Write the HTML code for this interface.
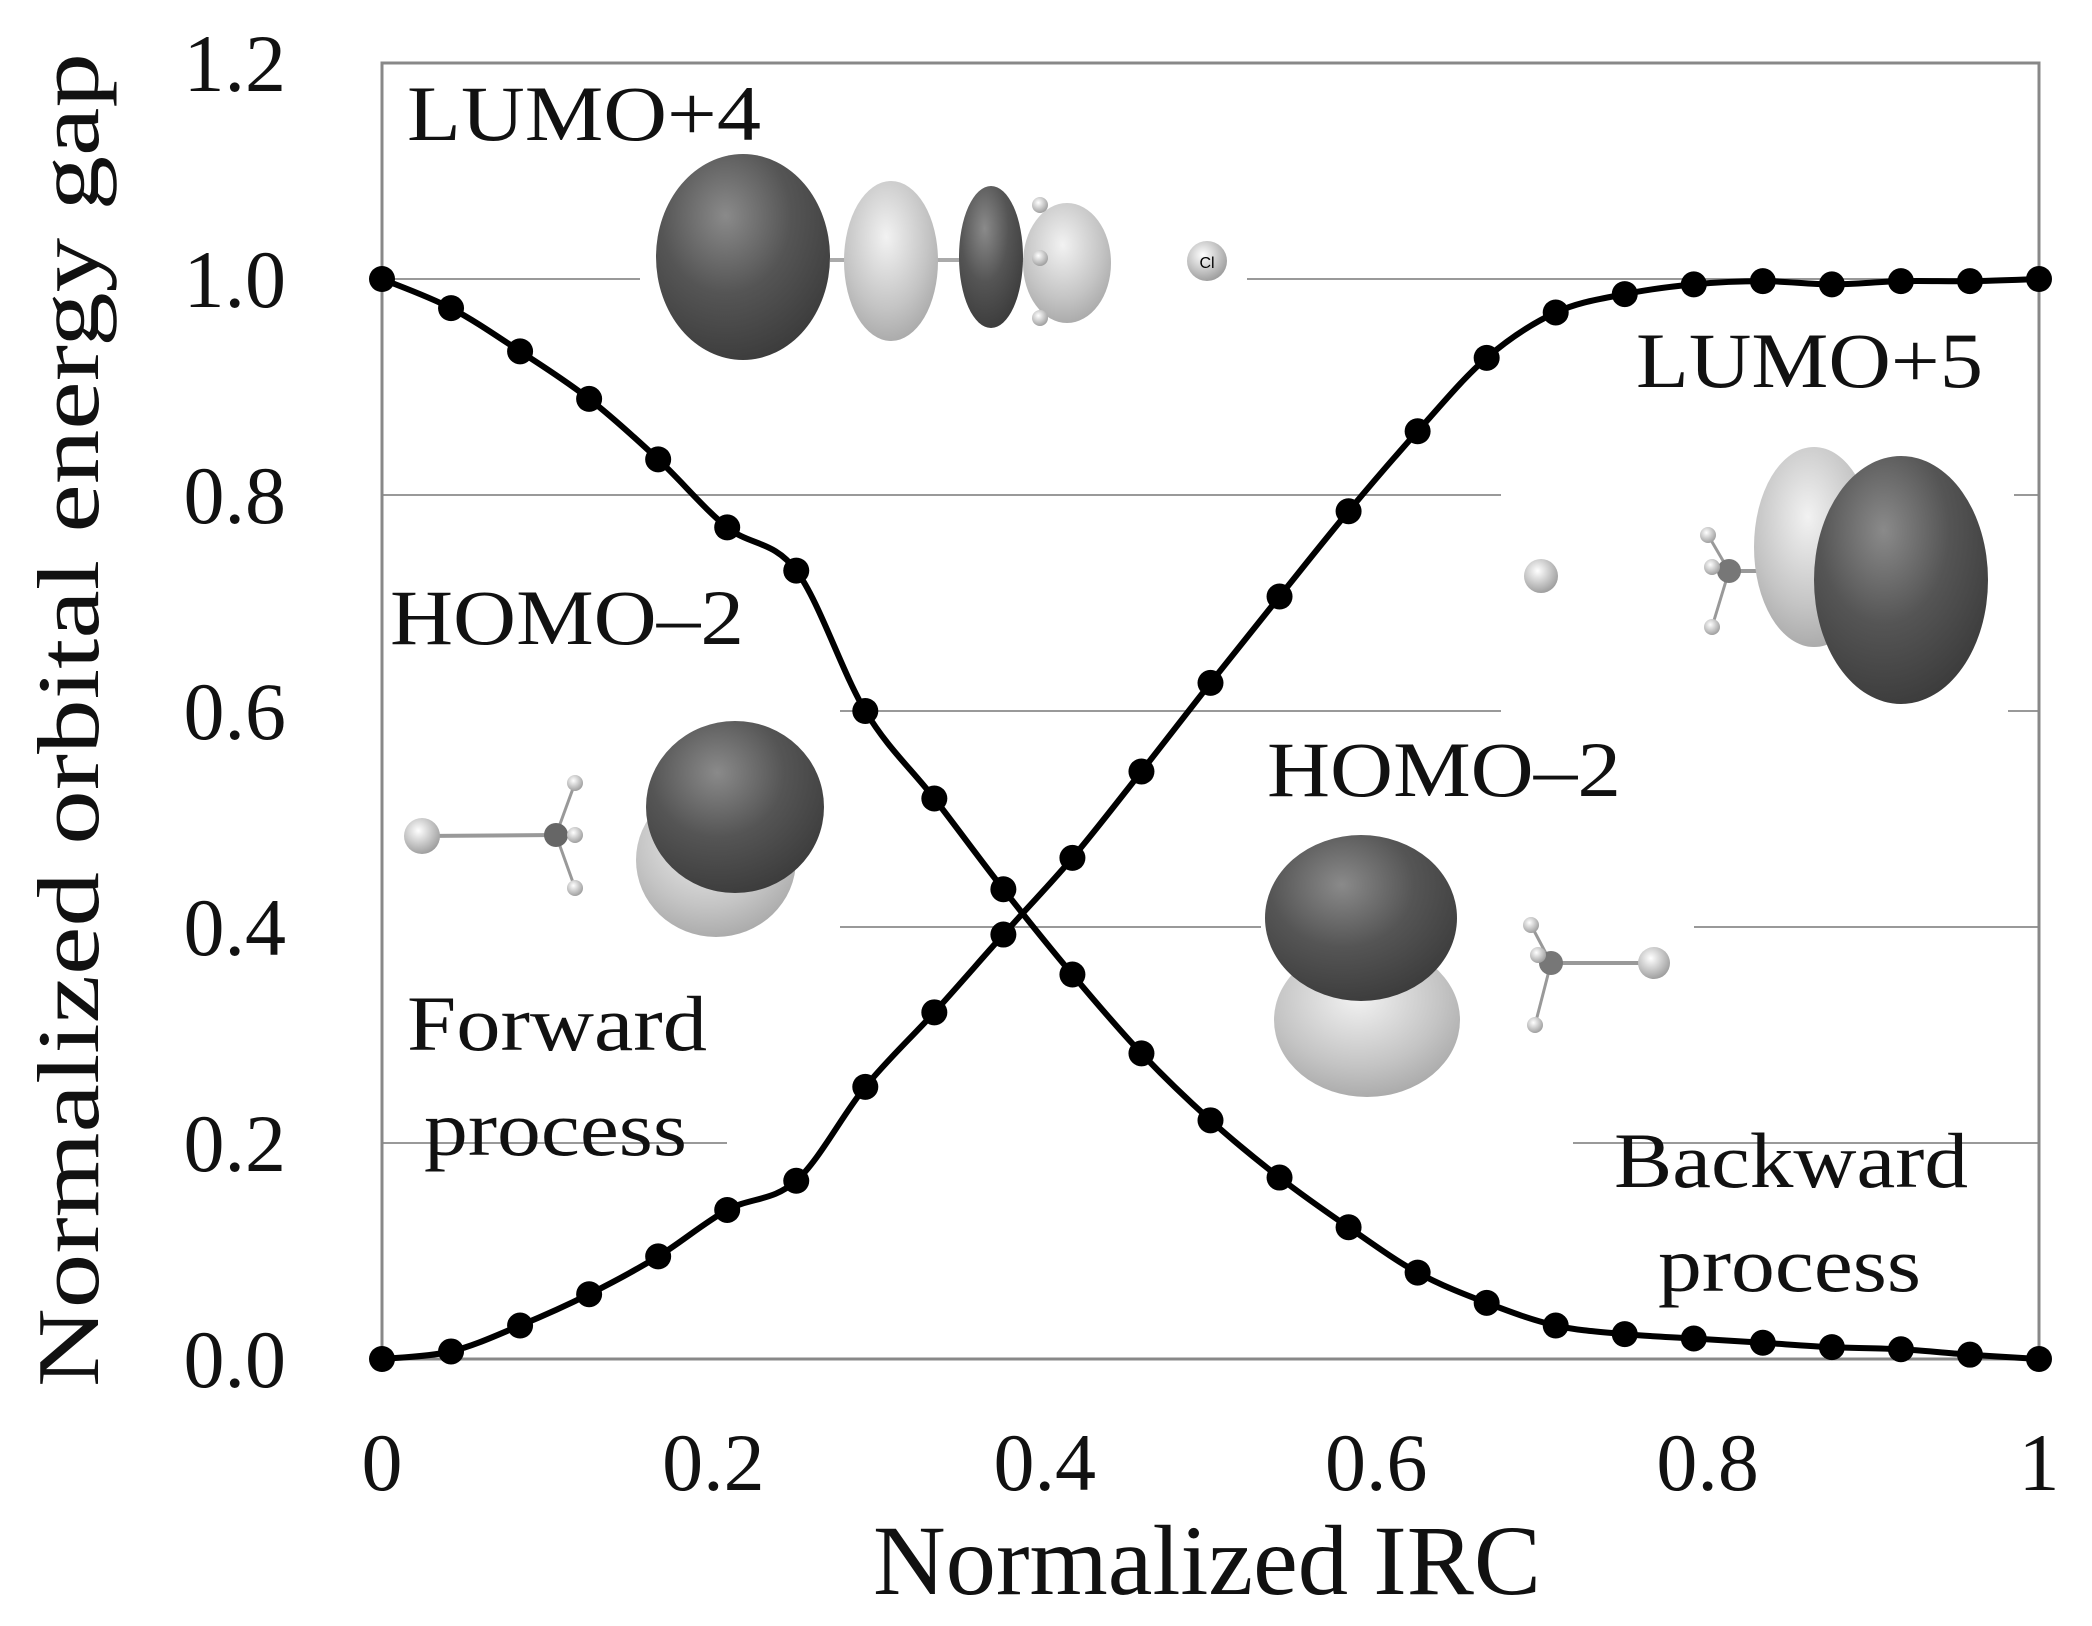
<!DOCTYPE html>
<html><head><meta charset="utf-8"><style>
html,body{margin:0;padding:0;background:#fff;}
svg{display:block;font-family:"Liberation Serif",serif;}
</style></head><body>
<svg id="chart" width="2092" height="1626" viewBox="0 0 2092 1626" xmlns="http://www.w3.org/2000/svg">
<defs>
<radialGradient id="dk" cx="0.4" cy="0.3" r="0.75"><stop offset="0" stop-color="#8a8a8a"/><stop offset="0.5" stop-color="#555"/><stop offset="1" stop-color="#3a3a3a"/></radialGradient>
<radialGradient id="lt" cx="0.45" cy="0.35" r="0.75"><stop offset="0" stop-color="#f2f2f2"/><stop offset="0.6" stop-color="#c4c4c4"/><stop offset="1" stop-color="#a0a0a0"/></radialGradient>
<radialGradient id="at" cx="0.4" cy="0.35" r="0.7"><stop offset="0" stop-color="#fff"/><stop offset="1" stop-color="#999"/></radialGradient>
</defs>
<g id="grid"></g>
<rect x="382" y="63" width="1657" height="1296" fill="none" stroke="#888" stroke-width="3"/>
<g id="ticks" font-size="82" fill="#111"></g>
<text x="1207" y="1594" font-size="100" text-anchor="middle" fill="#111" textLength="668" lengthAdjust="spacingAndGlyphs">Normalized IRC</text>
<text x="0" y="0" font-size="88" text-anchor="middle" fill="#111" transform="translate(98,720) rotate(-90)" textLength="1334" lengthAdjust="spacingAndGlyphs">Normalized orbital energy gap</text>

<g>
<ellipse cx="743" cy="257" rx="87" ry="103" fill="url(#dk)"/>
<line x1="830" y1="260" x2="1040" y2="260" stroke="#aaa" stroke-width="4"/>
<ellipse cx="891" cy="261" rx="47" ry="80" fill="url(#lt)"/>
<ellipse cx="1067" cy="263" rx="44" ry="60" fill="url(#lt)"/>
<ellipse cx="991" cy="257" rx="32" ry="71" fill="url(#dk)"/>
<circle cx="1040" cy="205" r="8" fill="url(#at)"/><circle cx="1040" cy="258" r="8" fill="url(#at)"/><circle cx="1040" cy="318" r="8" fill="url(#at)"/>
<circle cx="1207" cy="261" r="20" fill="url(#at)"/><text x="1207" y="268" font-family="Liberation Sans,sans-serif" font-size="16" text-anchor="middle">Cl</text>
</g>
<g>
<line x1="422" y1="836" x2="556" y2="835" stroke="#999" stroke-width="4"/>
<line x1="556" y1="835" x2="575" y2="783" stroke="#999" stroke-width="3"/><line x1="556" y1="835" x2="575" y2="888" stroke="#999" stroke-width="3"/>
<circle cx="422" cy="836" r="18" fill="url(#at)"/><circle cx="556" cy="835" r="12" fill="#666"/>
<circle cx="575" cy="783" r="8" fill="url(#at)"/><circle cx="575" cy="835" r="8" fill="url(#at)"/><circle cx="575" cy="888" r="8" fill="url(#at)"/>
<ellipse cx="716" cy="860" rx="80" ry="77" fill="url(#lt)"/>
<ellipse cx="735" cy="807" rx="89" ry="86" fill="url(#dk)"/>
</g>
<g>
<circle cx="1541" cy="576" r="17" fill="url(#at)"/>
<line x1="1729" y1="571" x2="1800" y2="571" stroke="#999" stroke-width="4"/>
<line x1="1729" y1="571" x2="1708" y2="535" stroke="#999" stroke-width="3"/><line x1="1729" y1="571" x2="1712" y2="627" stroke="#999" stroke-width="3"/>
<circle cx="1729" cy="571" r="12" fill="#777"/><circle cx="1708" cy="535" r="8" fill="url(#at)"/><circle cx="1712" cy="627" r="8" fill="url(#at)"/><circle cx="1712" cy="567" r="8" fill="url(#at)"/>
<ellipse cx="1814" cy="547" rx="60" ry="100" fill="url(#lt)"/>
<ellipse cx="1901" cy="580" rx="87" ry="124" fill="url(#dk)"/>
</g>
<g>
<ellipse cx="1367" cy="1020" rx="93" ry="77" fill="url(#lt)"/>
<ellipse cx="1361" cy="918" rx="96" ry="83" fill="url(#dk)"/>
<line x1="1551" y1="963" x2="1654" y2="963" stroke="#999" stroke-width="4"/>
<line x1="1551" y1="963" x2="1531" y2="925" stroke="#999" stroke-width="3"/><line x1="1551" y1="963" x2="1535" y2="1025" stroke="#999" stroke-width="3"/>
<circle cx="1551" cy="963" r="12" fill="#777"/><circle cx="1531" cy="925" r="8" fill="url(#at)"/><circle cx="1535" cy="1025" r="8" fill="url(#at)"/><circle cx="1538" cy="955" r="8" fill="url(#at)"/>
<circle cx="1654" cy="963" r="16" fill="url(#at)"/>
</g>

<g font-size="78" fill="#111">
<text x="407" y="140" textLength="354" lengthAdjust="spacingAndGlyphs">LUMO+4</text>
<text x="390" y="644" textLength="354" lengthAdjust="spacingAndGlyphs">HOMO–2</text>
<text x="407" y="1050" textLength="300" lengthAdjust="spacingAndGlyphs">Forward</text>
<text x="424" y="1155" textLength="263" lengthAdjust="spacingAndGlyphs">process</text>
<text x="1636" y="387" textLength="347" lengthAdjust="spacingAndGlyphs">LUMO+5</text>
<text x="1267" y="796" textLength="354" lengthAdjust="spacingAndGlyphs">HOMO–2</text>
<text x="1614" y="1187" textLength="354" lengthAdjust="spacingAndGlyphs">Backward</text>
<text x="1658" y="1291" textLength="263" lengthAdjust="spacingAndGlyphs">process</text>
</g>
<g id="series"></g>
</svg>
<script>
const xValues = [0,1,2,3,4,5,6,7,8,9,10,11,12,13,14,15,16,17,18,19,20,21,22,23,24].map(i=>i/24);
const fallingSeries = [1.0,0.973,0.933,0.889,0.833,0.770,0.730,0.600,0.519,0.435,0.356,0.283,0.221,0.168,0.122,0.080,0.052,0.031,0.023,0.019,0.015,0.011,0.009,0.004,0.0];
const risingSeries = [0.0,0.007,0.031,0.060,0.095,0.138,0.165,0.252,0.321,0.393,0.464,0.544,0.626,0.706,0.785,0.859,0.927,0.969,0.986,0.995,0.998,0.995,0.998,0.998,1.0];
const xTicks = ["0","0.2","0.4","0.6","0.8","1"];
const yTicks = ["0.0","0.2","0.4","0.6","0.8","1.0","1.2"];
const NS="http://www.w3.org/2000/svg";
const X0=382,X1=2039,Y0=1359,Y1=63;
function sx(v){return X0+(X1-X0)*v;}
function sy(v){return Y0-(Y0-Y1)*v/1.2;}
function mk(tag,attrs,parent){const e=document.createElementNS(NS,tag);for(const k in attrs)e.setAttribute(k,attrs[k]);parent.appendChild(e);return e;}
const grid=document.getElementById('grid');
const gridSegs={"0.2":[[382,727],[1573,2039]],"0.4":[[840,1261],[1694,2039]],"0.6":[[840,1501],[2008,2039]],"0.8":[[382,1501],[2014,2039]],"1.0":[[382,640],[1247,2039]]};
for(const k in gridSegs){for(const s of gridSegs[k]){
 const l=mk('line',{x1:s[0],x2:s[1],y1:sy(parseFloat(k)),y2:sy(parseFloat(k)),stroke:'#999','stroke-width':2},grid);
 
 
}}
const ticks=document.getElementById('ticks');
xTicks.forEach(t=>{const e=mk('text',{x:sx(parseFloat(t)),y:1490,'text-anchor':'middle'},ticks);e.textContent=t;
 
 });
yTicks.forEach(t=>{const e=mk('text',{x:286,y:sy(parseFloat(t))+28,'text-anchor':'end'},ticks);e.textContent=t;
 
 });
const series=document.getElementById('series');
function draw(vals,name){
 const g=mk('g',{},series);
 
 
 const pts=vals.map((v,i)=>[sx(xValues[i]),sy(v)]);
 let d='M'+pts[0][0]+','+pts[0][1];
 for(let i=0;i<pts.length-1;i++){
  const p0=pts[Math.max(0,i-1)],p1=pts[i],p2=pts[i+1],p3=pts[Math.min(pts.length-1,i+2)];
  const c1=[p1[0]+(p2[0]-p0[0])/6,p1[1]+(p2[1]-p0[1])/6],c2=[p2[0]-(p3[0]-p1[0])/6,p2[1]-(p3[1]-p1[1])/6];
  d+=` C${c1[0]},${c1[1]} ${c2[0]},${c2[1]} ${p2[0]},${p2[1]}`;
 }
 const p=mk('path',{d:d,fill:'none',stroke:'#000','stroke-width':6},g);
 
 
 pts.forEach(q=>{const c=mk('circle',{cx:q[0],cy:q[1],r:13,fill:'#000'},g);
  
  });
}
draw(fallingSeries,'forward-series');
draw(risingSeries,'backward-series');
</script>
</body></html>
